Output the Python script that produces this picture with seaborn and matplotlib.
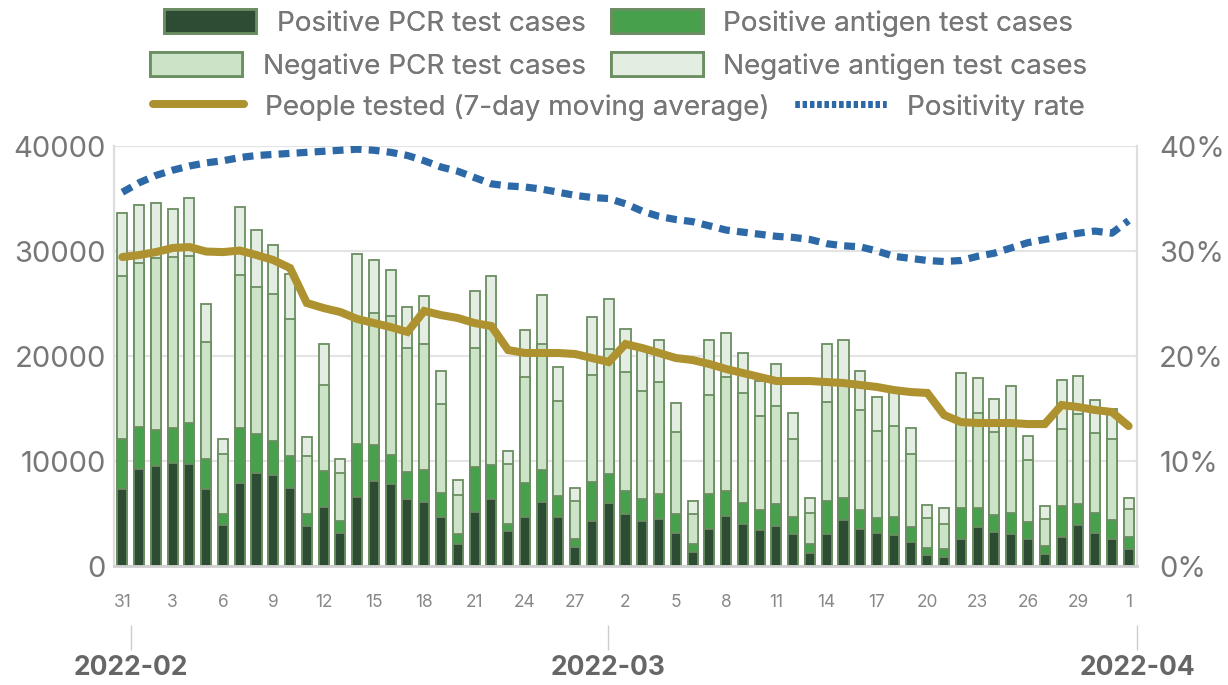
import numpy as np
import pandas as pd
import seaborn as sns
import matplotlib.pyplot as plt
from matplotlib.patches import Patch
from matplotlib.lines import Line2D

dates = pd.date_range('2022-01-31', '2022-04-01', freq='D')
day_labels = [str(d.day) for d in dates]
month_labels = ['2022-02', '2022-03', '2022-04']

pos_pcr = [7370, 9210, 9530, 9780, 9700, 7300, 3870, 7870, 8830, 8640,
           7460, 3810, 5620, 3110, 6600, 8100, 7780, 6410, 6100, 4700,
           2130, 5140, 6410, 3330, 4670, 6100, 4700, 1840, 4290, 6030,
           4920, 4290, 4450, 3180, 1330, 3490, 4760, 4030, 3400, 3810,
           3080, 1270, 3080, 4350, 3540, 3110, 2950, 2290, 1020, 890,
           2600, 3750, 3240, 3020, 2600, 1110, 2790, 3870, 3110, 2600, 1590]
pos_antigen = [4760, 4030, 3460, 3330, 3950, 2860, 1110, 5300, 3780, 3270,
               3020, 1110, 3430, 1180, 5050, 3390, 2820, 2540, 3050, 2290,
               950, 4290, 3180, 700, 3270, 3040, 1970, 760, 3740, 2700,
               2220, 2060, 2440, 1810, 800, 3340, 2380, 2000, 1900, 2060,
               1590, 790, 3110, 2100, 1760, 1490, 1720, 1460, 730, 700,
               2960, 1810, 1590, 2000, 1590, 790, 2920, 2000, 1910, 1750, 1200]
neg_pcr = [15490, 15600, 16310, 16290, 15900, 11210, 5720, 14510, 14000, 14030,
           13020, 5560, 8160, 4540, 12050, 12580, 13180, 11780, 12030, 8480,
           3650, 11300, 13210, 5720, 10060, 12030, 9050, 3590, 10130, 11910,
           11370, 10340, 10620, 7780, 2790, 9460, 10890, 10430, 8950, 9340,
           7400, 3020, 9450, 10750, 9580, 8250, 8650, 6890, 2860, 2440,
           8140, 9000, 7970, 8380, 5870, 2600, 7300, 8570, 7620, 7720, 2600]
neg_antigen = [5970, 5550, 5240, 4600, 5500, 3560, 1430, 6510, 5370, 4640,
               4290, 1810, 3910, 1400, 5990, 5110, 4370, 3970, 4540, 3110,
               1430, 5460, 4800, 1210, 4500, 4670, 3240, 1270, 5560, 4760,
               4080, 4110, 4040, 2710, 1270, 5240, 4190, 3790, 3350, 3990,
               2540, 1360, 5490, 4300, 3670, 3260, 3680, 2550, 1170, 1520,
               4700, 3350, 3120, 3730, 2320, 1210, 4670, 3650, 3140, 2920, 1050]
people_tested_avg = [29430, 29620, 29900, 30290, 30380, 29950, 29900, 30050, 29620, 29140,
                     28380, 25050, 24570, 24190, 23530, 23140, 22760, 22290, 24290, 23900,
                     23620, 23140, 22860, 20570, 20290, 20290, 20290, 20190, 19810, 19430,
                     21140, 20760, 20290, 19810, 19620, 19240, 18760, 18380, 18000, 17620,
                     17620, 17620, 17520, 17430, 17240, 17050, 16760, 16570, 16480, 14380,
                     13710, 13620, 13620, 13620, 13520, 13520, 15330, 15140, 14860, 14670, 13330]
positivity_rate = [35.6, 36.5, 37.2, 37.7, 38.1, 38.4, 38.6, 38.9, 39.1, 39.2,
                   39.3, 39.4, 39.5, 39.6, 39.7, 39.6, 39.4, 39.1, 38.6, 38.0,
                   37.6, 37.0, 36.4, 36.2, 36.1, 35.9, 35.6, 35.3, 35.1, 35.0,
                   34.5, 33.8, 33.3, 33.0, 32.8, 32.4, 32.0, 31.8, 31.6, 31.4,
                   31.3, 31.1, 30.7, 30.5, 30.4, 30.0, 29.5, 29.3, 29.1, 29.0,
                   29.1, 29.5, 29.8, 30.3, 30.8, 31.1, 31.4, 31.7, 31.9, 31.7, 32.9]

sns.set_theme(style="white")
plt.rcParams['font.family'] = ['Inter', 'DejaVu Sans']

c_pos_pcr = '#2c4d33'
c_pos_ant = '#47a04b'
c_neg_pcr = '#cce3c8'
c_neg_ant = '#e3ede2'
c_edge = '#6b8e62'
c_olive = '#ae922f'
c_blue = '#2d69a7'
c_text = '#777777'

df = pd.DataFrame({'idx': np.arange(len(dates)),
                   'pos_pcr': pos_pcr, 'pos_antigen': pos_antigen,
                   'neg_pcr': neg_pcr, 'neg_antigen': neg_antigen})
stack = df[['pos_pcr', 'pos_antigen', 'neg_pcr', 'neg_antigen']].cumsum(axis=1)

fig = plt.figure(figsize=(12.28, 6.85), dpi=100)
ax = fig.add_axes([0.0928, 0.1737, 0.8331, 0.6131])

# stacked bars: draw cumulative tops from the largest down
for col, color in [('neg_antigen', c_neg_ant), ('neg_pcr', c_neg_pcr),
                   ('pos_antigen', c_pos_ant), ('pos_pcr', c_pos_pcr)]:
    sns.barplot(x=df['idx'], y=stack[col], color=color, saturation=1,
                edgecolor=c_edge, linewidth=1.3, width=0.6,
                native_scale=True, ax=ax, zorder=2)

sns.lineplot(x=df['idx'], y=people_tested_avg, color=c_olive, lw=5.8,
             solid_joinstyle='miter', ax=ax, zorder=3)

ax.set_xlim(-0.5, len(dates) - 0.5)
ax.set_ylim(0, 40000)
ax.set_yticks(range(0, 40001, 10000))
ax.set_yticklabels([str(v) for v in range(0, 40001, 10000)])
ax.yaxis.grid(True, color='#e4e4e4', lw=1.6)
ax.set_axisbelow(True)
ax.set_xlabel('')
ax.set_ylabel('')

ax.set_xticks(df['idx'][::3])
ax.set_xticklabels(day_labels[::3])
ax.tick_params(axis='x', length=0, pad=20, labelsize=12.5, labelcolor='#888888')
ax.tick_params(axis='y', length=0, pad=6, labelsize=21, labelcolor=c_text)

ax.spines['top'].set_visible(False)
for side in ['left', 'right']:
    ax.spines[side].set_color('#dedede')
    ax.spines[side].set_linewidth(1.6)
ax.spines['bottom'].set_color('#d0d0d0')
ax.spines['bottom'].set_linewidth(2)

ax2 = ax.twinx()
sns.lineplot(x=df['idx'], y=positivity_rate, color=c_blue, lw=5.2,
             linestyle=(0, (1.5, 1.0)), dash_capstyle='butt', ax=ax2)
ax2.set_ylim(0, 40)
ax2.set_yticks(range(0, 41, 10))
ax2.set_yticklabels([f'{v}%' for v in range(0, 41, 10)])
ax2.tick_params(axis='y', length=0, pad=16, labelsize=21, labelcolor=c_text)
ax2.set_ylabel('')
for side in ['top', 'bottom', 'left', 'right']:
    ax2.spines[side].set_visible(False)
ax2.grid(False)

# month axis (time scale spanning Jan 31 to Apr 1)
n_days = (dates[-1] - dates[0]).days
month_pos = [-0.5 + len(dates) / n_days * (pd.Timestamp(m + '-01') - dates[0]).days
             for m in month_labels]
sec = ax.secondary_xaxis(-0.14)
sec.set_xticks(month_pos)
sec.set_xticklabels(month_labels)
sec.tick_params(axis='x', length=18, width=1, color='#cccccc', pad=4,
                labelsize=19, labelcolor='#666666')
for lbl in sec.get_xticklabels():
    lbl.set_fontweight('bold')
sec.spines['bottom'].set_visible(False)

# legend in three centered rows
rows = [
    ([Patch(facecolor=c_pos_pcr, edgecolor=c_edge, linewidth=2),
      Patch(facecolor=c_pos_ant, edgecolor=c_edge, linewidth=2)],
     ['Positive PCR test cases', 'Positive antigen test cases'], 23),
    ([Patch(facecolor=c_neg_pcr, edgecolor=c_edge, linewidth=2),
      Patch(facecolor=c_neg_ant, edgecolor=c_edge, linewidth=2)],
     ['Negative PCR test cases', 'Negative antigen test cases'], 66),
    ([Line2D([], [], color=c_olive, lw=5.5),
      Line2D([], [], color=c_blue, lw=5, linestyle=(0, (0.6, 0.45)))],
     ['People tested (7-day moving average)', 'Positivity rate'], 107),
]
for handles, labels, ypix in rows:
    leg = fig.legend(handles, labels, loc='center', ncol=2, frameon=False,
                     bbox_to_anchor=(0.504, 1 - ypix / 685), fontsize=20,
                     handlelength=3.3, handleheight=0.95, handletextpad=0.75,
                     columnspacing=0.9, borderpad=0, borderaxespad=0)
    for t in leg.get_texts():
        t.set_color(c_text)
    fig.add_artist(leg)

fig.savefig('out.png', dpi=100)
